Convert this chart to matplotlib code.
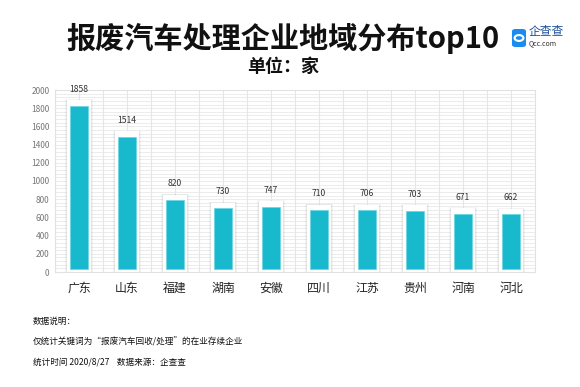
import matplotlib
matplotlib.use("Agg")
import matplotlib.pyplot as plt
from matplotlib.patches import FancyBboxPatch, Circle
import numpy as np

plt.rcParams["font.family"] = ["Noto Sans CJK SC", "DejaVu Sans"]

provinces = ["广东", "山东", "福建", "湖南", "安徽", "四川", "江苏", "贵州", "河南", "河北"]
counts = [1858, 1514, 820, 730, 747, 710, 706, 703, 671, 662]
yticks = [0, 200, 400, 600, 800, 1000, 1200, 1400, 1600, 1800, 2000]

title = "报废汽车处理企业地域分布top10"
subtitle = "单位：家"
notes = [
    "数据说明：",
    "仅统计关键词为“报废汽车回收/处理”的在业存续企业",
    "统计时间 2020/8/27    数据来源：企查查",
]

W, H = 580, 387
fig = plt.figure(figsize=(W / 100, H / 100), dpi=100)
fig.patch.set_facecolor("white")

# axes box in pixels: x 55..535, y 90..272
ax = fig.add_axes([55 / W, (H - 272) / H, 480 / W, 182 / H])
x = np.arange(len(provinces))
ax.set_xlim(-0.5, len(provinces) - 0.5)
ax.set_ylim(0, 2000)

# dense background grid
for yy in range(0, 2001, 40):
    ax.axhline(yy, color="#ececec", lw=0.7, zorder=0)
for xx in np.arange(-0.5, len(provinces), 0.5):
    ax.axvline(xx, color="#e6e6e6", lw=0.8, zorder=0)

pad = 30
# soft shadow + white card behind each bar
ax.bar(x, [v + pad + 10 for v in counts], width=0.57, color="#000000",
       alpha=0.04, zorder=1)
ax.bar(x, [v + pad + 5 for v in counts], width=0.535, color="#000000",
       alpha=0.05, zorder=1)
ax.bar(x, [v + pad for v in counts], width=0.5, color="white", zorder=2)
# the bar itself
ax.bar(x, [v - 2 * pad for v in counts], bottom=pad, width=0.37,
       color="#19b9cd", edgecolor="#6fd6e3", lw=0.6, zorder=3)

for xi, v in zip(x, counts):
    ax.annotate(str(v), (xi, v), xytext=(0, 10), textcoords="offset points",
                ha="center", va="center", fontsize=6.2, color="#333333",
                zorder=4)

ax.set_yticks(yticks)
ax.set_yticklabels([str(t) for t in yticks], fontsize=6, color="#777777")
ax.set_xticks(x)
ax.set_xticklabels(provinces, fontsize=8.6, color="#222222")
ax.tick_params(axis="both", length=0)
ax.tick_params(axis="y", pad=4)
ax.tick_params(axis="x", pad=7)
for side in ["left", "bottom", "top", "right"]:
    ax.spines[side].set_color("#e2e2e2")
    ax.spines[side].set_linewidth(0.8)

fig.text(283 / W, 1 - 38 / H, title, ha="center", va="center",
         fontsize=21, fontweight="heavy", color="#111111")
fig.text(283 / W, 1 - 66 / H, subtitle, ha="center", va="center",
         fontsize=13, fontweight="bold", color="#111111")

# logo
logo = FancyBboxPatch((512 / W, 1 - 47 / H), 14 / W, 18 / H,
                      boxstyle="round,pad=0,rounding_size=0.006",
                      transform=fig.transFigure, fc="#1a8cf0", ec="none")
fig.patches.append(logo)
ring = Circle((519 / W, 1 - 38 / H), 4.4 / W, transform=fig.transFigure,
              fc="none", ec="white", lw=1.5)
fig.patches.append(ring)
fig.text(529 / W, 1 - 32 / H, "企查查", ha="left", va="center",
         fontsize=8.5, color="#1a4f9c")
fig.text(529 / W, 1 - 43 / H, "Qcc.com", ha="left", va="center",
         fontsize=5, color="#333333")

for txt, yp in zip(notes, [321, 342, 362]):
    fig.text(33 / W, 1 - yp / H, txt, ha="left", va="center",
             fontsize=6.2, color="#111111")

fig.savefig("out.png", dpi=100)
